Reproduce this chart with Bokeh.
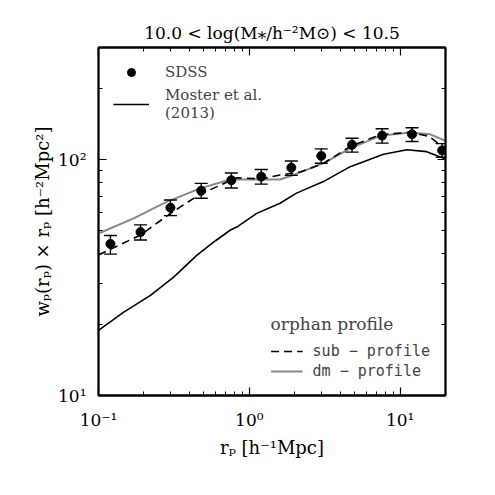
from bokeh.plotting import figure
from bokeh.models import (LogAxis, Legend, LegendItem, CustomJSTickFormatter,
                          FixedTicker, Range1d, ColumnDataSource)
from bokeh.embed import file_html
from bokeh.resources import INLINE

# --- SDSS projected correlation function, 10.0 < log M* < 10.5 ---
rp_sdss = [0.12, 0.19, 0.30, 0.48, 0.76, 1.2, 1.9, 3.0, 4.8, 7.6, 12.0, 19.0]
wp_sdss = [44.0, 49.4, 62.7, 74.0, 82.0, 84.9, 92.7, 104.0, 115.9, 126.8, 128.5, 109.7]
wp_sdss_lo = [39.8, 45.7, 58.0, 68.7, 76.0, 78.9, 86.0, 96.8, 107.9, 117.8, 119.7, 102.6]
wp_sdss_hi = [47.8, 53.0, 67.6, 79.5, 88.0, 91.0, 99.0, 111.4, 123.6, 135.5, 137.0, 117.2]

# --- Moster et al. (2013) model ---
rp_moster = [0.1, 0.147, 0.221, 0.315, 0.45, 0.60, 0.75, 0.83, 1.12, 1.6, 2.04, 3.1, 4.67, 7.76, 11.1, 15.0, 20.0]
wp_moster = [18.9, 22.6, 26.6, 31.8, 39.4, 45.5, 50.4, 52.0, 59.3, 65.5, 72.1, 80.9, 93.6, 105.7, 110.4, 108.4, 101.0]

# --- orphan profile variants ---
rp_sub = [0.1, 0.19, 0.30, 0.473, 0.83, 1.2, 1.6, 2.19, 3.1, 4.67, 7.38, 11.6, 15.5, 20.0]
wp_sub = [39.5, 48.0, 59.3, 71.6, 84.0, 83.0, 86.3, 89.0, 96.7, 114.0, 128.0, 131.0, 126.0, 111.0]

rp_dm = [0.1, 0.171, 0.285, 0.473, 0.748, 1.0, 1.6, 1.96, 3.1, 4.67, 7.38, 11.6, 15.8, 20.0]
wp_dm = [48.7, 56.5, 66.5, 75.7, 82.6, 82.6, 82.6, 86.3, 96.7, 112.0, 126.5, 130.6, 128.5, 120.5]

x_major = [0.1, 1.0, 10.0]
x_minor = [0.2, 0.3, 0.4, 0.5, 0.6, 0.7, 0.8, 0.9, 2, 3, 4, 5, 6, 7, 8, 9, 20]
y_major = [10.0, 100.0]
y_minor = [20, 30, 40, 50, 60, 70, 80, 90, 200, 300]

SERIF = "DejaVu Serif"
MONO = "DejaVu Sans Mono"

p = figure(width=495, height=495, x_axis_type="log", y_axis_type="log",
           x_range=Range1d(0.1, 20), y_range=Range1d(10, 300),
           output_backend="svg", toolbar_location=None,
           min_border_left=98, min_border_right=50,
           min_border_top=47, min_border_bottom=100,
           title="10.0 < log(M\u204e/h\u207b\u00b2M\u2299) < 10.5")
p.title.align = "center"
p.title.text_font = SERIF
p.title.text_font_size = "17px"
p.title.text_font_style = "normal"
p.title.text_color = "black"
p.title.offset = 0
p.grid.visible = False
p.outline_line_color = "black"
p.outline_line_width = 1.8
p.background_fill_color = "white"
p.border_fill_color = "white"

pow10 = CustomJSTickFormatter(code="""
const e = Math.round(Math.log10(tick));
const sup = {"-": "\u207b", "0": "\u2070", "1": "\u00b9", "2": "\u00b2", "3": "\u00b3"};
return "10" + String(e).split("").map(c => sup[c]).join("");
""")
blank = CustomJSTickFormatter(code="return '';")


def style_axis(ax, ticks, minor, formatter, labelled):
    ax.ticker = FixedTicker(ticks=ticks, minor_ticks=minor)
    ax.formatter = formatter if labelled else blank
    ax.axis_line_color = "black"
    ax.axis_line_width = 1.8
    ax.major_tick_in = 8
    ax.major_tick_out = 0
    ax.minor_tick_in = 4
    ax.minor_tick_out = 0
    ax.major_tick_line_width = 1.2
    ax.minor_tick_line_width = 1.0
    ax.major_label_text_font = SERIF
    ax.major_label_text_font_size = "17px"
    ax.major_label_text_color = "black"
    ax.axis_label_text_font = SERIF
    ax.axis_label_text_font_size = "18px"
    ax.axis_label_text_font_style = "normal"
    ax.axis_label_text_color = "black"


style_axis(p.xaxis[0], x_major, x_minor, pow10, True)
style_axis(p.yaxis[0], y_major, y_minor, pow10, True)
p.xaxis[0].axis_label = "r\u209a [h\u207b\u00b9Mpc]"
p.yaxis[0].axis_label = "w\u209a(r\u209a) \u00d7 r\u209a [h\u207b\u00b2Mpc\u00b2]"
p.xaxis[0].major_label_standoff = 14
p.yaxis[0].major_label_standoff = 12
p.xaxis[0].axis_label_standoff = 4
p.yaxis[0].axis_label_standoff = 2

top = LogAxis()
right = LogAxis()
style_axis(top, x_major, x_minor, None, False)
style_axis(right, y_major, y_minor, None, False)
p.add_layout(top, "above")
p.add_layout(right, "right")

# model curves
r_moster = p.line(rp_moster, wp_moster, line_color="black", line_width=1.6)
r_dm = p.line(rp_dm, wp_dm, line_color="#888888", line_width=2.0)
r_sub = p.line(rp_sub, wp_sub, line_color="black", line_width=1.6, line_dash="8 5")

# SDSS points with error bars
src = ColumnDataSource(dict(x=rp_sdss, y=wp_sdss, lo=wp_sdss_lo, hi=wp_sdss_hi))
p.segment(x0="x", y0="lo", x1="x", y1="hi", source=src, line_color="black", line_width=1.4)
p.scatter(x="x", y="lo", source=src, marker="dash", size=13, line_color="black", line_width=1.4)
p.scatter(x="x", y="hi", source=src, marker="dash", size=13, line_color="black", line_width=1.4)
r_pts = p.scatter(x="x", y="y", source=src, marker="circle", size=9,
                  fill_color="black", line_color="black")

leg1 = Legend(items=[LegendItem(label="SDSS", renderers=[r_pts]),
                     LegendItem(label="Moster et al.\n(2013)", renderers=[r_moster])],
              location="top_left", margin=15, padding=0, spacing=4,
              glyph_width=36, glyph_height=20, label_standoff=16,
              label_text_font=SERIF, label_text_font_size="15px",
              border_line_color=None, background_fill_alpha=0)
leg2 = Legend(items=[LegendItem(label="sub \u2212 profile", renderers=[r_sub]),
                     LegendItem(label="dm \u2212 profile", renderers=[r_dm])],
              title="orphan profile", title_text_font=SERIF, title_text_font_size="17px",
              title_text_font_style="normal", title_standoff=8,
              location="bottom_right", margin=15, padding=0, spacing=2,
              glyph_width=32, glyph_height=18, label_standoff=10,
              label_text_font=MONO, label_text_font_size="15px",
              border_line_color=None, background_fill_alpha=0)
p.add_layout(leg1, "center")
p.add_layout(leg2, "center")

open("out.html", "w").write(file_html(p, INLINE))
